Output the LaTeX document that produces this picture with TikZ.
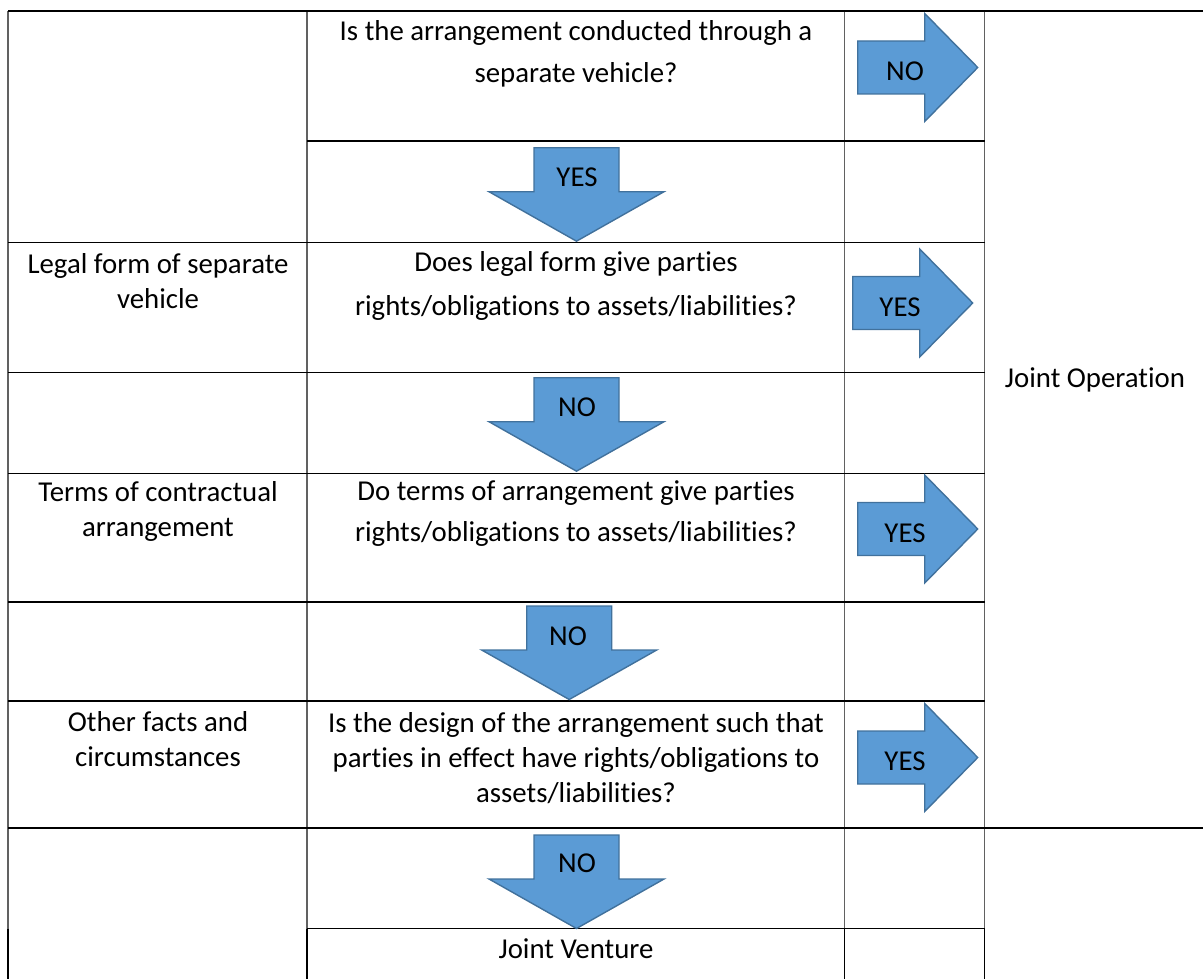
\documentclass[tikz,border=0pt]{standalone}
\usepackage{fontspec}
\setmainfont{Carlito}[Ligatures={NoCommon}]
\usetikzlibrary{calc}

\definecolor{arrowfill}{HTML}{5B9BD5}
\definecolor{arrowedge}{HTML}{41719C}

\tikzset{
  hline/.style={line width=0.75pt, black},
  vline/.style={line width=0.6pt, black!62},
  blockarrow/.style={fill=arrowfill, draw=arrowedge, line width=0.7pt, line join=miter},
  celltext/.style={align=center, inner sep=0pt, font=\fontsize{14.4}{17.5}\selectfont},
}

% block arrow pointing right: left end x, centre y
\newcommand{\rightblk}[2]{%
  \draw[blockarrow] (#1,#2) ++(0,-26.5) -- ++(67,0) -- ++(0,-27.5) -- ++(53,54)
    -- ++(-53,54) -- ++(0,-27.5) -- ++(-67,0) -- cycle;}
% block arrow pointing down: centre x, top y
\newcommand{\downblk}[2]{%
  \draw[blockarrow] (#1,#2) ++(-42.5,0) -- ++(85,0) -- ++(0,44) -- ++(45,0)
    -- ++(-87.5,49.5) -- ++(-87.5,-49.5) -- ++(45,0) -- cycle;}

\begin{document}
\begin{tikzpicture}[x=0.5pt,y=-0.5pt]
  \useasboundingbox (0,0) rectangle (1203,979);

  % grid of the table
  \draw[vline] (8,11) -- (8,928.5);
  \draw[vline] (307,11) -- (307,928.5);
  \draw[vline] (844.5,11) -- (844.5,928.5);
  \draw[vline] (984.5,11) -- (984.5,928.5);
  \draw[hline] (8,928.5) -- (8,979);
  \draw[hline] (307,928.5) -- (307,979);
  \draw[hline] (844.5,928.5) -- (844.5,979);
  \draw[hline] (984.5,928.5) -- (984.5,979);

  \draw[hline] (8,11) -- (1203,11);
  \draw[hline] (307,141) -- (984.5,141);
  \draw[hline] (8,242.5) -- (984.5,242.5);
  \draw[hline] (8,372.5) -- (984.5,372.5);
  \draw[hline] (8,473.5) -- (984.5,473.5);
  \draw[hline] (8,602) -- (984.5,602);
  \draw[hline] (8,701) -- (984.5,701);
  \draw[hline] (8,828) -- (1203,828);
  \draw[hline] (307,928.5) -- (984.5,928.5);

  % left column
  \node[celltext] (legal) at (158,281) {Legal form of separate\\vehicle};
  \node[celltext] (terms) at (158,511.5) {Terms of contractual\\arrangement};
  \node[celltext] (facts) at (158,739.5) {Other facts and\\circumstances};

  % questions
  \node[celltext] (qvehicle) at (576,54) {Is the arrangement conducted through a\\[3.5pt]separate vehicle?};
  \node[celltext] (qlegal) at (576,286) {Does legal form give parties\\[4.5pt]rights/obligations to assets/liabilities?};
  \node[celltext] (qterms) at (576,514) {Do terms of arrangement give parties\\[3pt]rights/obligations to assets/liabilities?};
  \node[celltext] (qfacts) at (576,758) {Is the design of the arrangement such that\\parties in effect have rights/obligations to\\assets/liabilities?};

  % outcomes
  \node[celltext] (jointop) at (1095,380) {Joint Operation};
  \node[celltext] (jointv) at (576,949) {Joint Venture};

  % arrows to the right
  \rightblk{857.7}{67.5}
  \node[celltext] (no1) at (905,71) {NO};
  \rightblk{852.7}{303}
  \node[celltext] (yes2) at (900,307.5) {YES};
  \rightblk{857.7}{529}
  \node[celltext] (yes3) at (905,533) {YES};
  \rightblk{857.7}{757.5}
  \node[celltext] (yes4) at (905,761) {YES};

  % arrows downwards
  \downblk{576.5}{147.7}
  \node[celltext] (yes1) at (577,177) {YES};
  \downblk{576.5}{377.7}
  \node[celltext] (no2) at (577,407.5) {NO};
  \downblk{569.2}{606}
  \node[celltext] (no3) at (568,636) {NO};
  \downblk{576.5}{835}
  \node[celltext] (no4) at (577,863) {NO};
\end{tikzpicture}
\end{document}
